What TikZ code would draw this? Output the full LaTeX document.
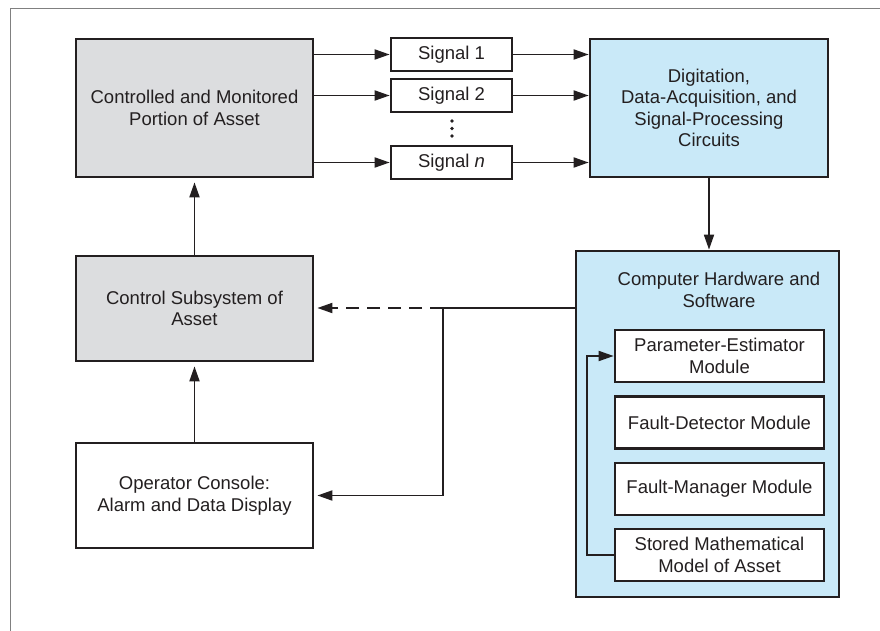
\documentclass[tikz,border=0pt]{standalone}
\usepackage{fontspec}
\setmainfont{Liberation Sans}
\usetikzlibrary{arrows.meta}
\definecolor{boxgray}{HTML}{DCDDDF}
\definecolor{boxblue}{HTML}{C9E9F8}
\definecolor{ink}{HTML}{231F20}
\begin{document}
\begin{tikzpicture}[x=1pt,y=-1pt]
       \tikzstyle{block}=[draw=ink, line width=2.7pt, align=center, inner sep=0pt,
         font=\fontsize{18.5}{21.5}\selectfont, text=ink]
       \tikzstyle{bigbox}=[block, minimum width=237pt]
       \tikzstyle{sigbox}=[block, fill=white, minimum width=121pt, minimum height=33pt]
       \tikzstyle{modbox}=[block, fill=white, minimum width=209pt, minimum height=52pt]
       \tikzstyle{link}=[draw=ink, line width=1.8pt, -{Triangle[length=15pt,width=10pt]}]
       \useasboundingbox (0,0) rectangle (880,631);
       \draw[gray, line width=1pt] (10,631) -- (10,9) -- (880,9);
       % left column
       \node[bigbox, fill=boxgray, minimum height=138pt] (asset) at (194.5,108)
         {Controlled and Monitored\\Portion of Asset};
       \node[bigbox, fill=boxgray, minimum height=105pt] (ctrl) at (194.5,308.5)
         {Control Subsystem of\\Asset};
       \node[bigbox, fill=white, minimum height=105pt] (console) at (194.5,495.5)
         {Operator Console:\\Alarm and Data Display};
       % signals
       \node[sigbox] (sig1) at (451.5,54.5) {Signal 1};
       \node[sigbox] (sig2) at (451.5,95.5) {Signal 2};
       \node[sigbox] (sign) at (451.5,162.5) {Signal \textit{n}};
       \foreach \y in {121,128.5,136}
         \fill[ink] (452,\y) circle (1.8pt);
       % right column
       \node[block, fill=boxblue, minimum width=238pt, minimum height=138pt] (daq) at (709,108)
         {Digitation,\\Data-Acquisition, and\\Signal-Processing\\Circuits};
       \node[block, fill=boxblue, minimum width=263pt, minimum height=346pt] (comp) at (707.5,424) {};
       \node[align=center, text=ink, font=\fontsize{18.5}{21.5}\selectfont] (comptitle) at (719,290)
         {Computer Hardware and\\Software};
       \node[modbox] (est) at (719.5,356) {Parameter-Estimator\\Module};
       \node[modbox] (det) at (719.5,422.5) {Fault-Detector Module};
       \node[modbox] (man) at (719.5,489) {Fault-Manager Module};
       \node[modbox] (model) at (719.5,555) {Stored Mathematical\\Model of Asset};
       % connectors
       \foreach \s in {sig1,sig2,sign} {
         \draw[link] (asset.east |- \s) -- (\s.west);
         \draw[link] (\s.east) -- (daq.west |- \s);
       }
       \draw[link] (daq.south) -- (daq.south |- comp.north);
       \draw[link] (ctrl.north) -- ([yshift=-4pt]asset.south);
       \draw[link] (console.north) -- ([yshift=-4pt]ctrl.south);
       \draw[link] (model.west) -- ++(-27,0) |- (est.west);
       \coordinate (split) at (443,308);
       \draw[draw=ink, line width=1.8pt] (comp.west |- split) -- (split);
       \draw[link, dash pattern=on 13pt off 8pt] (split) -- ([xshift=3pt]ctrl.east |- split);
       \draw[link] (split) -- (split |- console) -- ([xshift=3pt]console.east);
\end{tikzpicture}
\end{document}
